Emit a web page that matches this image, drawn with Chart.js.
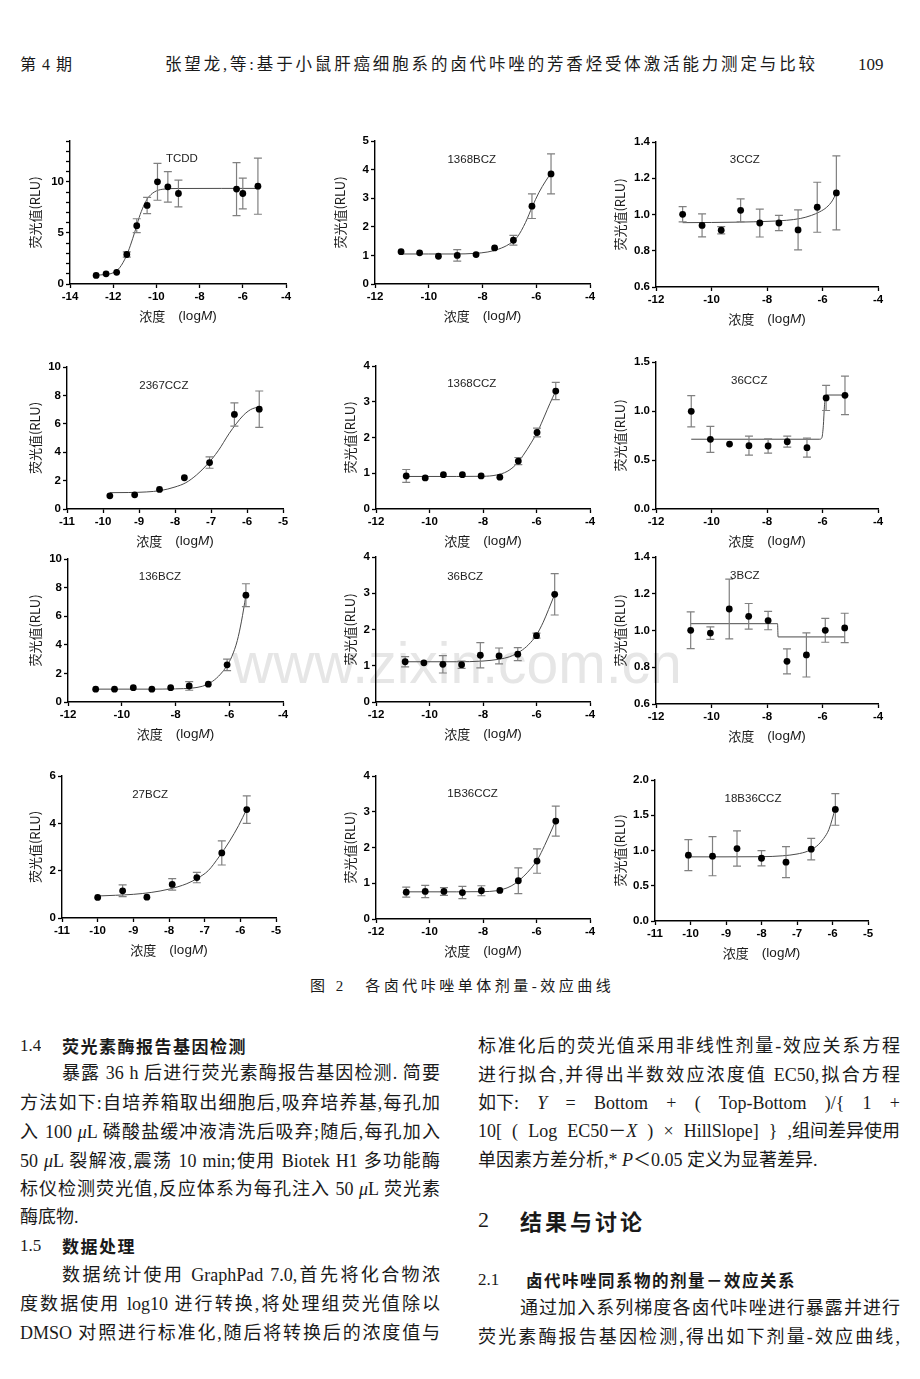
<!DOCTYPE html>
<html><head><meta charset="utf-8">
<script src="https://cdn.jsdelivr.net/npm/chart.js@4.4.0/dist/chart.umd.min.js"></script>
<style>
body{margin:0;width:920px;height:1379px;background:#fff;position:relative;overflow:hidden;color:#1a1a1a;font-family:"Liberation Serif","Noto Sans CJK SC",serif}
.ln{position:absolute;font-size:18px;line-height:22px;height:22px;white-space:normal;overflow:hidden}
.j{text-align:justify;text-align-last:justify}
.ib{display:inline-block}
.hb{font-family:"Noto Sans CJK SC",sans-serif;font-weight:bold;letter-spacing:1.5px}
canvas{position:absolute;z-index:2}
#wm{position:absolute;left:232px;top:635px;font-family:"Liberation Sans",Arial,sans-serif;font-size:57px;line-height:57px;color:#e6e6e6;z-index:1;white-space:nowrap}
</style></head>
<body>
<div class="ln" style="left:20px;top:54px;font-size:16px;letter-spacing:1px">第 4 期</div>
<div class="ln j" style="left:165px;top:54px;width:650px;font-size:16.5px">张望龙,等:基于小鼠肝癌细胞系的卤代咔唑的芳香烃受体激活能力测定与比较</div>
<div class="ln" style="left:858px;top:54px;font-size:17px">109</div>
<div id="wm">www.zixin.com.cn</div>

<div class="ln" style="left:310px;top:975px;font-size:15px;letter-spacing:3.5px">图 2　各卤代咔唑单体剂量-效应曲线</div>

<div class="ln" style="left:20px;top:1035px;font-size:17px">1.4</div>
<div class="ln hb" style="left:62px;top:1035px;font-size:17px">荧光素酶报告基因检测</div>
<div class="ln j" style="left:62px;top:1062px;width:378px">暴露 36 h 后进行荧光素酶报告基因检测. 简要</div>
<div class="ln j" style="left:20px;top:1092px;width:420px">方法如下:自培养箱取出细胞后,吸弃培养基,每孔加</div>
<div class="ln j" style="left:20px;top:1121px;width:420px">入 100 <i>μ</i>L 磷酸盐缓冲液清洗后吸弃;随后,每孔加入</div>
<div class="ln j" style="left:20px;top:1150px;width:420px">50 <i>μ</i>L 裂解液,震荡 10 min;使用 Biotek H1 多功能酶</div>
<div class="ln j" style="left:20px;top:1178px;width:420px">标仪检测荧光值,反应体系为每孔注入 50 <i>μ</i>L 荧光素</div>
<div class="ln" style="left:20px;top:1206px">酶底物.</div>
<div class="ln" style="left:20px;top:1235px;font-size:17px">1.5</div>
<div class="ln hb" style="left:62px;top:1235px;font-size:17px">数据处理</div>
<div class="ln j" style="left:62px;top:1264px;width:378px">数据统计使用 GraphPad 7.0,首先将化合物浓</div>
<div class="ln j" style="left:20px;top:1293px;width:420px">度数据使用 log10 进行转换,将处理组荧光值除以</div>
<div class="ln j" style="left:20px;top:1322px;width:420px">DMSO 对照进行标准化,随后将转换后的浓度值与</div>

<div class="ln j" style="left:478px;top:1035px;width:422px">标准化后的荧光值采用非线性剂量-效应关系方程</div>
<div class="ln j" style="left:478px;top:1064px;width:422px">进行拟合,并得出半数效应浓度值 EC50,拟合方程</div>
<div class="ln j" style="left:478px;top:1092px;width:422px"><span class="ib">如下:</span> <i>Y</i> = Bottom + ( Top-Bottom )/{ 1 +</div>
<div class="ln j" style="left:478px;top:1120px;width:422px">10[ ( Log EC50－<i>X</i> ) × HillSlope] } <span class="ib">,组间差异使用</span></div>
<div class="ln" style="left:478px;top:1149px">单因素方差分析,* <i>P</i>＜0.05 定义为显著差异.</div>
<div class="ln" style="left:478px;top:1205px;font-size:22px;line-height:30px;height:30px">2</div>
<div class="ln hb" style="left:520px;top:1205px;font-size:22px;line-height:30px;height:30px;letter-spacing:3px">结果与讨论</div>
<div class="ln" style="left:478px;top:1269px;font-size:17px">2.1</div>
<div class="ln hb" style="left:526px;top:1269px;font-size:16.5px">卤代咔唑同系物的剂量－效应关系</div>
<div class="ln j" style="left:520px;top:1297px;width:380px">通过加入系列梯度各卤代咔唑进行暴露并进行</div>
<div class="ln j" style="left:478px;top:1326px;width:422px">荧光素酶报告基因检测,得出如下剂量-效应曲线,</div>

<script>
// ---------- DATA ----------
const names = ['TCDD','1368BCZ','3CCZ','2367CCZ','1368CCZ','36CCZ','136BCZ','36BCZ','3BCZ','27BCZ','1B36CCZ','18B36CCZ'];

const xTicksWide = [-14,-12,-10,-8,-6,-4];
const xTicksStd = [-12,-10,-8,-6,-4];
const xTicksNarrow = [-11,-10,-9,-8,-7,-6,-5];

const yTicksTCDD = [0,1,2,3,4,5,6,7,8,9,10,11,12,13,14];
const yLabelsTCDD = [0,5,10];
const yTicks0to5 = [0,1,2,3,4,5];
const yTicks0to4 = [0,1,2,3,4];
const yTicks0to10 = [0,2,4,6,8,10];
const yTicks0to6 = [0,2,4,6];
const yTicks06to14 = [0.6,0.8,1.0,1.2,1.4];
const yTicks0to15 = [0,0.5,1.0,1.5];
const yTicks0to20 = [0,0.5,1.0,1.5,2.0];

// TCDD
const xTCDD = [-12.79,-12.33,-11.84,-11.37,-10.91,-10.43,-9.95,-9.47,-8.98,-6.29,-6.0,-5.3];
const yTCDD = [0.84,1.0,1.14,2.89,5.71,7.69,10.0,9.51,8.86,9.29,8.86,9.58];
const eTCDD = [0,0,0,0.26,0.68,0.8,1.8,1.5,1.3,2.6,1.5,2.75];
const fxTCDD = [-12.8,-12.4,-12.0,-11.7,-11.4,-11.2,-11.0,-10.8,-10.6,-10.4,-10.1,-9.7,-9.0,-7.0,-5.3];
const fyTCDD = [0.87,0.92,1.1,1.6,2.7,3.8,5.1,6.5,7.6,8.4,9.0,9.28,9.35,9.36,9.36];
// 1368BCZ
const x1368BCZ = [-11.03,-10.34,-9.64,-8.94,-8.24,-7.55,-6.85,-6.16,-5.45];
const y1368BCZ = [1.13,1.09,0.97,1.0,1.03,1.26,1.53,2.72,3.85];
const e1368BCZ = [0,0,0,0.2,0,0,0.17,0.43,0.7];
const fx1368BCZ = [-11.03,-10,-9,-8.3,-7.8,-7.4,-7.0,-6.7,-6.4,-6.15,-5.9,-5.65,-5.45];
const fy1368BCZ = [1.05,1.05,1.05,1.07,1.12,1.22,1.4,1.65,2.15,2.7,3.2,3.6,3.88];
// 3CCZ
const x3CCZ = [-11.04,-10.34,-9.65,-8.95,-8.26,-7.57,-6.88,-6.19,-5.50];
const y3CCZ = [1.001,0.94,0.913,1.023,0.953,0.953,0.915,1.04,1.119];
const e3CCZ = [0.042,0.063,0.02,0.063,0.077,0.042,0.11,0.138,0.204];
const fx3CCZ = [-11.04,-10,-9,-8,-7.3,-6.8,-6.4,-6.1,-5.85,-5.65,-5.5];
const fy3CCZ = [0.955,0.956,0.958,0.962,0.968,0.978,0.995,1.015,1.04,1.075,1.12];
// 2367CCZ
const x2367CCZ = [-9.81,-9.12,-8.43,-7.74,-7.04,-6.35,-5.66];
const y2367CCZ = [0.93,1.0,1.38,2.2,3.27,6.66,7.03];
const e2367CCZ = [0,0,0,0,0.4,0.82,1.28];
const fx2367CCZ = [-9.81,-9.3,-8.8,-8.4,-8.0,-7.7,-7.4,-7.1,-6.8,-6.5,-6.3,-6.1,-5.9,-5.66];
const fy2367CCZ = [1.15,1.16,1.2,1.3,1.55,1.85,2.4,3.15,4.1,5.3,6.0,6.6,7.0,7.2];
// 1368CCZ
const x1368CCZ = [-10.87,-10.16,-9.48,-8.77,-8.07,-7.37,-6.68,-5.98,-5.28];
const y1368CCZ = [0.925,0.87,0.96,0.96,0.925,0.89,1.34,2.14,3.3];
const e1368CCZ = [0.18,0,0,0,0,0,0.1,0.12,0.24];
const fx1368CCZ = [-10.87,-9,-8,-7.5,-7.1,-6.8,-6.5,-6.2,-5.95,-5.7,-5.5,-5.28];
const fy1368CCZ = [0.91,0.91,0.915,0.95,1.05,1.22,1.5,1.85,2.18,2.6,2.95,3.3];
// 36CCZ
const x36CCZ = [-10.73,-10.04,-9.35,-8.65,-7.96,-7.27,-6.56,-5.87,-5.19];
const y36CCZ = [0.997,0.711,0.663,0.646,0.643,0.687,0.626,1.133,1.16];
const e36CCZ = [0.16,0.133,0,0.097,0.073,0.056,0.097,0.128,0.196];
const fx36CCZ = [-10.73,-8,-6.1,-6.02,-5.97,-5.93,-5.89,-5.84,-5.19];
const fy36CCZ = [0.712,0.712,0.712,0.73,0.85,1.05,1.15,1.163,1.163];
// 136BCZ
const x136BCZ = [-10.97,-10.27,-9.57,-8.88,-8.18,-7.49,-6.78,-6.08,-5.38];
const y136BCZ = [0.9,0.9,1.0,0.9,1.0,1.12,1.25,2.6,7.47];
const e136BCZ = [0,0,0,0,0,0.3,0,0.4,0.8];
const fx136BCZ = [-10.97,-9,-8,-7.4,-7.0,-6.7,-6.4,-6.1,-5.9,-5.7,-5.55,-5.38];
const fy136BCZ = [0.9,0.9,0.92,0.97,1.1,1.35,1.8,2.5,3.2,4.3,5.6,7.45];
// 36BCZ
const x36BCZ = [-10.91,-10.21,-9.5,-8.8,-8.1,-7.4,-6.7,-6.0,-5.32];
const y36BCZ = [1.11,1.08,1.04,1.03,1.29,1.27,1.32,1.83,2.97];
const e36BCZ = [0.14,0,0.24,0.1,0.35,0.22,0.18,0.07,0.57];
const fx36BCZ = [-10.91,-9,-8,-7.4,-7,-6.6,-6.3,-6.0,-5.75,-5.55,-5.32];
const fy36BCZ = [1.11,1.11,1.13,1.18,1.25,1.4,1.58,1.85,2.2,2.55,2.97];
// 3BCZ
const x3BCZ = [-10.75,-10.04,-9.36,-8.66,-7.96,-7.28,-6.58,-5.9,-5.2];
const y3BCZ = [1.001,0.986,1.117,1.077,1.054,0.832,0.867,1.001,1.014];
const e3BCZ = [0.1,0.034,0.163,0.07,0.05,0.068,0.12,0.065,0.08];
const fx3BCZ = [-10.75,-7.62,-7.6,-5.2];
const fy3BCZ = [1.037,1.037,0.965,0.965];
// 27BCZ
const x27BCZ = [-10.0,-9.3,-8.62,-7.91,-7.22,-6.52,-5.82];
const y27BCZ = [0.87,1.15,0.88,1.42,1.71,2.75,4.58];
const e27BCZ = [0,0.25,0,0.24,0.22,0.51,0.58];
const fx27BCZ = [-10,-9.5,-9,-8.5,-8,-7.5,-7.2,-6.9,-6.6,-6.3,-6.05,-5.82];
const fy27BCZ = [0.93,0.96,1.0,1.08,1.22,1.45,1.68,2.0,2.58,3.25,3.9,4.6];
// 1B36CCZ
const x1B36CCZ = [-10.87,-10.16,-9.46,-8.77,-8.06,-7.37,-6.68,-5.98,-5.28];
const y1B36CCZ = [0.75,0.77,0.77,0.74,0.79,0.8,1.07,1.62,2.74];
const e1B36CCZ = [0.14,0.17,0.11,0.17,0.14,0,0.36,0.34,0.42];
const fx1B36CCZ = [-10.87,-9,-8,-7.5,-7.1,-6.8,-6.5,-6.2,-5.95,-5.7,-5.5,-5.28];
const fy1B36CCZ = [0.76,0.76,0.765,0.79,0.87,0.99,1.18,1.42,1.68,2.05,2.38,2.75];
// 18B36CCZ
const x18B36CCZ = [-10.06,-9.38,-8.69,-8.0,-7.31,-6.6,-5.92];
const y18B36CCZ = [0.934,0.919,1.028,0.89,0.834,1.019,1.583];
const e18B36CCZ = [0.22,0.277,0.25,0.107,0.22,0.153,0.225];
const fx18B36CCZ = [-10.06,-9,-8,-7.4,-7.0,-6.7,-6.45,-6.25,-6.1,-5.92];
const fy18B36CCZ = [0.91,0.91,0.912,0.925,0.95,0.99,1.06,1.17,1.3,1.6];

// ---------- PANELS (layout kept separate from data) ----------
const panels = [
 {n:0,x:xTCDD,y:yTCDD,e:eTCDD,fx:fxTCDD,fy:fyTCDD,xt:xTicksWide,yt:yTicksTCDD,yl:yLabelsTCDD,ymax:14,dec:0,box:[70,141,286,284],lab:[-8.82,12.28],td:35},
 {n:1,x:x1368BCZ,y:y1368BCZ,e:e1368BCZ,fx:fx1368BCZ,fy:fy1368BCZ,xt:xTicksStd,yt:yTicks0to5,dec:0,box:[375,141,590,284],lab:[-8.40,4.34],td:35},
 {n:2,x:x3CCZ,y:y3CCZ,e:e3CCZ,fx:fx3CCZ,fy:fy3CCZ,xt:xTicksStd,yt:yTicks06to14,dec:1,box:[656,142,878,287],lab:[-8.80,1.299],td:36},
 {n:3,x:x2367CCZ,y:y2367CCZ,e:e2367CCZ,fx:fx2367CCZ,fy:fy2367CCZ,xt:xTicksNarrow,yt:yTicks0to10,dec:0,box:[67,367,283,509],lab:[-8.31,8.67],td:32},
 {n:4,x:x1368CCZ,y:y1368CCZ,e:e1368CCZ,fx:fx1368CCZ,fy:fy1368CCZ,xt:xTicksStd,yt:yTicks0to4,dec:0,box:[376,366,590,509],lab:[-8.42,3.49],td:26},
 {n:5,x:x36CCZ,y:y36CCZ,e:e36CCZ,fx:fx36CCZ,fy:fy36CCZ,xt:xTicksStd,yt:yTicks0to15,dec:1,box:[656,362,878,509],lab:[-8.64,1.303],td:36},
 {n:6,x:x136BCZ,y:y136BCZ,e:e136BCZ,fx:fx136BCZ,fy:fy136BCZ,xt:xTicksStd,yt:yTicks0to10,dec:0,box:[68,559,283,702],lab:[-8.58,8.74],td:33},
 {n:7,x:x36BCZ,y:y36BCZ,e:e36BCZ,fx:fx36BCZ,fy:fy36BCZ,xt:xTicksStd,yt:yTicks0to4,dec:0,box:[376,557,590,702],lab:[-8.67,3.46],td:26},
 {n:8,x:x3BCZ,y:y3BCZ,e:e3BCZ,fx:fx3BCZ,fy:fy3BCZ,xt:xTicksStd,yt:yTicks06to14,dec:1,box:[656,557,878,704],lab:[-8.80,1.298],td:36},
 {n:9,x:x27BCZ,y:y27BCZ,e:e27BCZ,fx:fx27BCZ,fy:fy27BCZ,xt:xTicksNarrow,yt:yTicks0to6,dec:0,box:[62,776,276,918],lab:[-8.53,5.22],td:27},
 {n:10,x:x1B36CCZ,y:y1B36CCZ,e:e1B36CCZ,fx:fx1B36CCZ,fy:fy1B36CCZ,xt:xTicksStd,yt:yTicks0to4,dec:0,box:[376,776,590,919],lab:[-8.39,3.49],td:26},
 {n:11,x:x18B36CCZ,y:y18B36CCZ,e:e18B36CCZ,fx:fx18B36CCZ,fy:fy18B36CCZ,xt:xTicksNarrow,yt:yTicks0to20,dec:1,box:[655,780,868,921],lab:[-8.24,1.74],td:35}
];

const YW = 55, XH = 48, PT = 10, PR = 15;
const LATIN = '"Liberation Sans", Arial, sans-serif';
const CJK = '"Noto Sans CJK SC", sans-serif';

function makePlugin(p) {
  return {
    id: 'panelExtras' + p.n,
    beforeDatasetDraw(chart, args) {
      if (args.index !== 0) return;
      const xs = chart.scales.x, ys = chart.scales.y, ctx = chart.ctx;
      ctx.save();
      ctx.strokeStyle = '#808080'; ctx.lineWidth = 1.2;
      p.x.forEach((xv, i) => {
        const e = p.e[i]; if (!e) return;
        const px = xs.getPixelForValue(xv);
        const t = ys.getPixelForValue(p.y[i] + e), b = ys.getPixelForValue(p.y[i] - e);
        ctx.beginPath();
        ctx.moveTo(px, t); ctx.lineTo(px, b);
        ctx.moveTo(px - 4, t); ctx.lineTo(px + 4, t);
        ctx.moveTo(px - 4, b); ctx.lineTo(px + 4, b);
        ctx.stroke();
      });
      ctx.restore();
    },
    afterDraw(chart) {
      const ctx = chart.ctx, xs = chart.scales.x, ys = chart.scales.y, ca = chart.chartArea;
      ctx.save();
      ctx.fillStyle = '#222';
      ctx.textBaseline = 'middle';
      ctx.textAlign = 'center';
      ctx.font = '11.5px ' + LATIN;
      ctx.fillText(names[p.n], xs.getPixelForValue(p.lab[0]), ys.getPixelForValue(p.lab[1]));
      // x axis title: 浓度 (logM) with italic M
      const parts = [['浓度\u3000', '13px ' + CJK], ['(log', '13.5px ' + LATIN], ['M', 'italic 13.5px ' + LATIN], [')', '13.5px ' + LATIN]];
      let total = 0;
      parts.forEach(s => { ctx.font = s[1]; s.w = ctx.measureText(s[0]).width; total += s.w; });
      let cx = (ca.left + ca.right) / 2 - total / 2;
      const cy = ca.bottom + 32;
      ctx.textAlign = 'left';
      ctx.fillStyle = '#1a1a1a';
      parts.forEach(s => { ctx.font = s[1]; ctx.fillText(s[0], cx, cy); cx += s.w; });
      ctx.restore();
    }
  };
}

panels.forEach(p => {
  const [L, T, R, B] = p.box;
  const cv = document.createElement('canvas');
  const w = (R - L) + YW + PR, h = (B - T) + PT + XH;
  cv.width = w; cv.height = h;
  cv.style.width = w + 'px'; cv.style.height = h + 'px';
  cv.style.left = (L - YW) + 'px'; cv.style.top = (T - PT) + 'px';
  document.body.appendChild(cv);
  const ymin = p.yt[0], ymax = p.ymax !== undefined ? p.ymax : p.yt[p.yt.length - 1];
  const labeled = p.yl || p.yt;
  const tickFont = {family: LATIN, size: 11.5, weight: 'bold'};
  new Chart(cv, {
    type: 'scatter',
    data: {
      datasets: [
        {data: p.x.map((v, i) => ({x: v, y: p.y[i]})), pointRadius: 3.4, pointHoverRadius: 3.4,
         pointBackgroundColor: '#000', pointBorderColor: '#000', pointBorderWidth: 0, showLine: false},
        {data: p.fx.map((v, i) => ({x: v, y: p.fy[i]})), showLine: true, pointRadius: 0,
         borderColor: '#4a4a4a', borderWidth: 1, cubicInterpolationMode: 'monotone', fill: false}
      ]
    },
    options: {
      responsive: false, animation: false, devicePixelRatio: 1,
      layout: {padding: {left: 0, top: PT, right: PR, bottom: 0}},
      plugins: {legend: {display: false}, tooltip: {enabled: false}},
      scales: {
        x: {
          type: 'linear', min: p.xt[0], max: p.xt[p.xt.length - 1],
          afterBuildTicks: s => { s.ticks = p.xt.map(v => ({value: v})); },
          afterFit: s => { s.height = XH; },
          grid: {drawOnChartArea: false, drawTicks: true, tickLength: 4, tickColor: '#000', tickWidth: 1.3},
          border: {display: true, color: '#000', width: 1.4},
          ticks: {color: '#000', font: tickFont, padding: 2, maxRotation: 0, autoSkip: false, callback: v => String(v)}
        },
        y: {
          type: 'linear', min: ymin, max: ymax,
          afterBuildTicks: s => { s.ticks = p.yt.map(v => ({value: v})); },
          afterFit: s => { s.width = YW; },
          grid: {drawOnChartArea: false, drawTicks: true, tickLength: 4, tickColor: '#000', tickWidth: 1.3},
          border: {display: true, color: '#000', width: 1.4},
          ticks: {color: '#000', font: tickFont, padding: 2, autoSkip: false,
                  callback: v => labeled.some(l => Math.abs(l - v) < 1e-9) ? Number(v).toFixed(p.dec) : ''},
          title: {display: true, text: '荧光值(RLU)', color: '#1a1a1a', font: {family: CJK, size: 13},
                  padding: {top: YW - p.td - 7.8, bottom: 0}}
        }
      }
    },
    plugins: [makePlugin(p)]
  });
});
</script>
</body></html>
